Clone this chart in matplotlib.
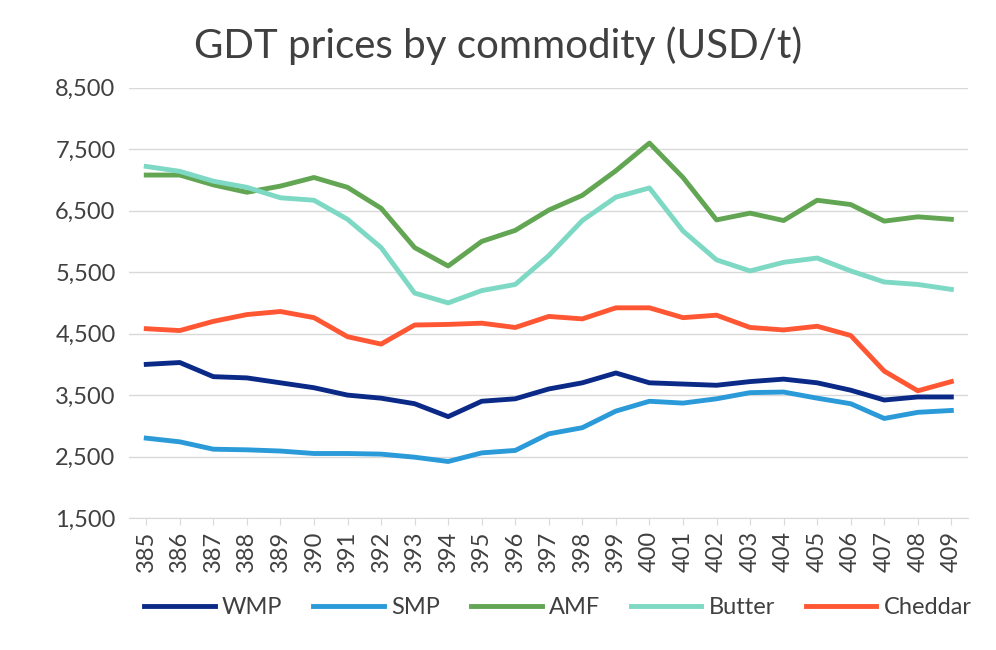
import matplotlib.pyplot as plt
from matplotlib.ticker import FuncFormatter

plt.rcParams['font.family'] = ['Lato', 'DejaVu Sans']

events = list(range(385, 410))
wmp = [4000, 4030, 3800, 3780, 3700, 3620, 3500, 3450, 3360, 3150, 3400, 3440, 3600,
       3700, 3860, 3700, 3680, 3660, 3720, 3760, 3700, 3580, 3420, 3470, 3470]
smp = [2800, 2740, 2620, 2610, 2590, 2550, 2550, 2540, 2490, 2420, 2560, 2600, 2870,
       2970, 3240, 3400, 3370, 3440, 3540, 3550, 3450, 3360, 3120, 3220, 3250]
amf = [7080, 7080, 6920, 6800, 6900, 7040, 6880, 6540, 5900, 5600, 6000, 6180, 6510,
       6750, 7150, 7600, 7040, 6350, 6460, 6340, 6670, 6600, 6330, 6400, 6360]
butter = [7220, 7140, 6980, 6880, 6710, 6670, 6360, 5900, 5160, 5000, 5200, 5300, 5770,
          6340, 6720, 6870, 6170, 5700, 5520, 5660, 5730, 5520, 5340, 5300, 5220]
cheddar = [4580, 4550, 4700, 4810, 4860, 4760, 4450, 4330, 4640, 4650, 4670, 4600, 4780,
           4740, 4920, 4920, 4760, 4800, 4600, 4560, 4620, 4470, 3890, 3570, 3720]

series = [('WMP', wmp, '#0b2a88'), ('SMP', smp, '#2a9ad8'), ('AMF', amf, '#62a553'),
          ('Butter', butter, '#7dd8c4'), ('Cheddar', cheddar, '#ff5733')]

fig = plt.figure(figsize=(9.96, 6.5), dpi=100)
ax = fig.add_axes([0.13, 0.203, 0.842, 0.662])

x = list(range(len(events)))
for name, vals, col in series:
    ax.plot(x, vals, color=col, linewidth=3.5, label=name)

ax.set_ylim(1500, 8500)
ax.set_yticks(range(1500, 8501, 1000))
ax.yaxis.set_major_formatter(FuncFormatter(lambda v, p: f'{int(v):,}'))
ax.set_xlim(-0.5, len(events) - 0.5)
ax.set_xticks(x)
ax.set_xticklabels([str(e) for e in events], rotation=90)
ax.grid(axis='y', color='#d9d9d9', linewidth=1)
ax.set_axisbelow(True)
for s in ['top', 'right', 'left']:
    ax.spines[s].set_visible(False)
ax.spines['bottom'].set_color('#d9d9d9')
ax.tick_params(axis='both', length=0, labelsize=17, colors='#404040', pad=10)
ax.tick_params(axis='x', length=5, color='#d9d9d9', pad=4)

fig.text(0.5, 0.93, 'GDT prices by commodity (USD/t)', ha='center', va='center',
         fontsize=29, color='#404040')
fig.legend(loc='center', bbox_to_anchor=(0.56, 0.065), ncol=5, frameon=False,
           fontsize=17, handlelength=3.0, handletextpad=0.3, columnspacing=1.3,
           labelcolor='#404040')

fig.savefig('out.png', dpi=100, facecolor='white')
